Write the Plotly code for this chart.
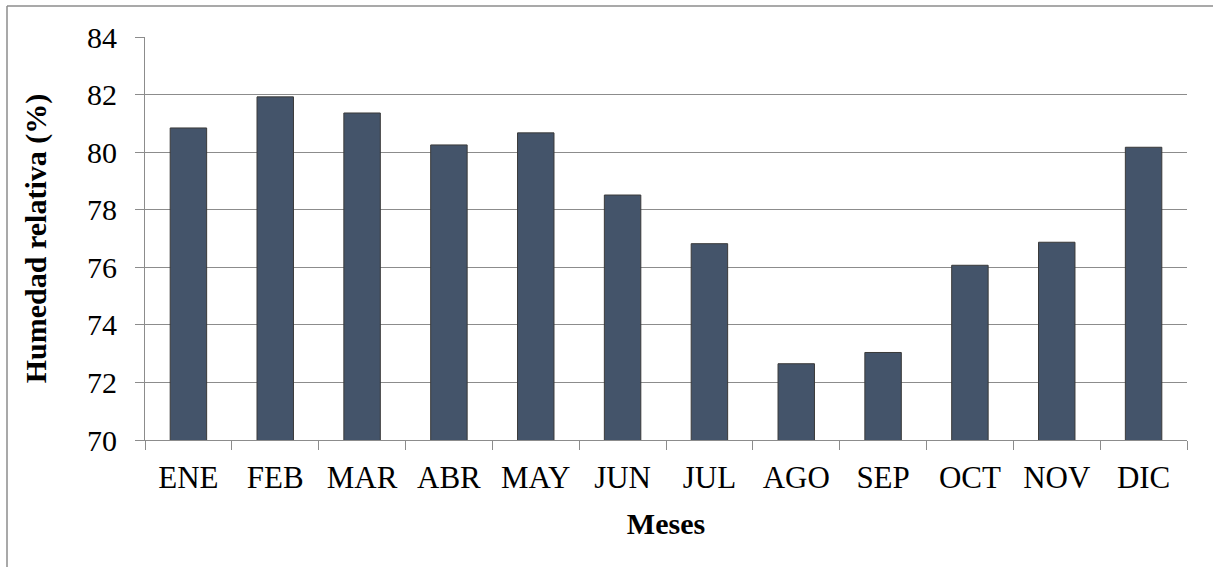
import plotly.graph_objects as go

# Humedad relativa media mensual
meses = ["ENE", "FEB", "MAR", "ABR", "MAY", "JUN", "JUL", "AGO", "SEP", "OCT", "NOV", "DIC"]
humedad = [80.84, 81.92, 81.36, 80.25, 80.67, 78.51, 76.82, 72.65, 73.04, 76.07, 76.87, 80.17]
y_ticks = [70, 72, 74, 76, 78, 80, 82, 84]

W, H = 1213, 567
L, R, T, B = 145, 26, 37, 127
plot_w = W - L - R
plot_h = H - T - B

fig = go.Figure(
    go.Bar(
        x=meses,
        y=humedad,
        marker=dict(color="#44546A", line=dict(color="#3a3a3a", width=1)),
        width=0.42,
    )
)

font_family = "Liberation Serif, Times New Roman, serif"
axis_gray = "#8c8c8c"

fig.update_layout(
    width=W,
    height=H,
    margin=dict(l=L, r=R, t=T, b=B),
    paper_bgcolor="white",
    plot_bgcolor="white",
    showlegend=False,
    font=dict(family=font_family, size=30, color="black"),
    xaxis=dict(
        title=dict(text="<b>Meses</b>", font=dict(size=30), standoff=18),
        ticks="outside",
        tickson="boundaries",
        ticklen=9,
        tickcolor=axis_gray,
        showline=True,
        linecolor=axis_gray,
        linewidth=1,
        tickfont=dict(size=31),
        ticklabelstandoff=10,
        showgrid=False,
    ),
    yaxis=dict(
        title=dict(text="<b>Humedad relativa (%)</b>", font=dict(size=30), standoff=31),
        range=[70, 84],
        tickvals=y_ticks,
        ticks="outside",
        ticklen=9,
        tickcolor=axis_gray,
        showline=True,
        linecolor=axis_gray,
        linewidth=1,
        showgrid=True,
        gridcolor=axis_gray,
        gridwidth=1,
        tickfont=dict(size=30),
        ticklabelstandoff=12,
        zeroline=False,
    ),
)

# outer frame of the chart area (left and top edges)
def px_x(px):
    return (px - L) / plot_w

def px_y(py):
    return (H - B - py) / plot_h

fig.add_shape(type="line", xref="paper", yref="paper",
              x0=px_x(7), x1=px_x(W + 5), y0=px_y(6), y1=px_y(6),
              line=dict(color=axis_gray, width=1.5))
fig.add_shape(type="line", xref="paper", yref="paper",
              x0=px_x(7), x1=px_x(7), y0=px_y(6), y1=px_y(H + 5),
              line=dict(color=axis_gray, width=1.5))

fig.write_html("out.html")
